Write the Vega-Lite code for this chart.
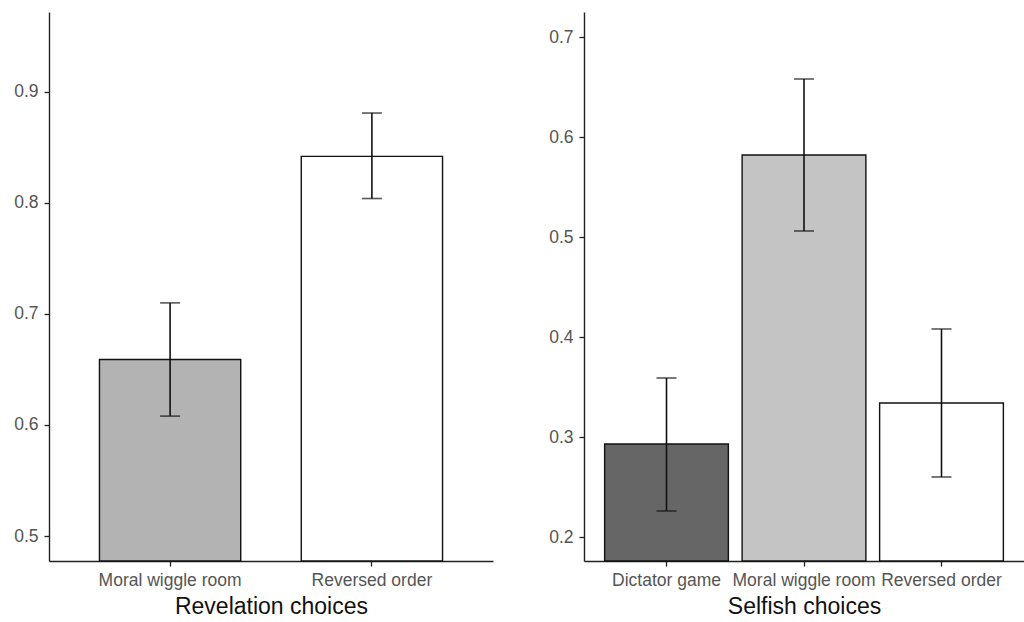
{
  "$schema": "https://vega.github.io/schema/vega-lite/v6.json",
  "background": "white",
  "padding": {"left": 13, "top": 12, "right": 0, "bottom": 0},
  "datasets": {
    "revelation": [
      {"condition": "Moral wiggle room", "mean": 0.659, "lo": 0.608, "hi": 0.710},
      {"condition": "Reversed order", "mean": 0.842, "lo": 0.804, "hi": 0.881}
    ],
    "selfish": [
      {"condition": "Dictator game", "mean": 0.293, "lo": 0.226, "hi": 0.359},
      {"condition": "Moral wiggle room", "mean": 0.582, "lo": 0.506, "hi": 0.658},
      {"condition": "Reversed order", "mean": 0.334, "lo": 0.260, "hi": 0.408}
    ]
  },
  "config": {
    "font": "Liberation Sans",
    "view": {"stroke": null},
    "axis": {
      "grid": false,
      "domainColor": "#222222",
      "domainWidth": 1.4,
      "tickColor": "#222222",
      "tickWidth": 1.3,
      "tickSize": 5,
      "labelColor": "#555555",
      "labelFont": "Liberation Sans",
      "labelFontSize": 17.5,
      "titleFont": "Liberation Sans",
      "titleFontSize": 23,
      "titleFontWeight": "normal",
      "titleColor": "#111111"
    }
  },
  "hconcat": [
    {
      "width": 444,
      "height": 549,
      "data": {"name": "revelation"},
      "encoding": {
        "x": {
          "field": "condition",
          "type": "nominal",
          "title": "Revelation choices",
          "scale": {"paddingInner": 0.3, "paddingOuter": 0.25},
          "axis": {"labelAngle": 0, "labelPadding": 5, "titlePadding": 7}
        }
      },
      "layer": [
        {
          "mark": {"type": "bar", "stroke": "#111111", "strokeWidth": 1.4},
          "encoding": {
            "y": {
              "field": "mean",
              "type": "quantitative",
              "title": null,
              "scale": {"domain": [0.4775, 0.972], "zero": false, "nice": false},
              "axis": {"values": [0.5, 0.6, 0.7, 0.8, 0.9], "format": ".1f", "labelPadding": 6}
            },
            "y2": {"datum": 0.4775},
            "fill": {
              "field": "condition",
              "type": "nominal",
              "legend": null,
              "scale": {"domain": ["Moral wiggle room", "Reversed order"], "range": ["#B3B3B3", "#FFFFFF"]}
            }
          }
        },
        {
          "mark": {"type": "rule", "color": "#111111", "strokeWidth": 1.6},
          "encoding": {"y": {"field": "lo", "type": "quantitative"}, "y2": {"field": "hi"}}
        },
        {
          "mark": {"type": "tick", "color": "#111111", "thickness": 1.6, "size": 20},
          "encoding": {"y": {"field": "lo", "type": "quantitative"}}
        },
        {
          "mark": {"type": "tick", "color": "#111111", "thickness": 1.6, "size": 20},
          "encoding": {"y": {"field": "hi", "type": "quantitative"}}
        }
      ]
    },
    {
      "width": 440,
      "height": 549,
      "data": {"name": "selfish"},
      "encoding": {
        "x": {
          "field": "condition",
          "type": "nominal",
          "title": "Selfish choices",
          "scale": {"paddingInner": 0.1, "paddingOuter": 0.15},
          "axis": {"labelAngle": 0, "labelPadding": 5, "titlePadding": 7, "labelOverlap": false}
        }
      },
      "layer": [
        {
          "mark": {"type": "bar", "stroke": "#111111", "strokeWidth": 1.4},
          "encoding": {
            "y": {
              "field": "mean",
              "type": "quantitative",
              "title": null,
              "scale": {"domain": [0.176, 0.725], "zero": false, "nice": false},
              "axis": {"values": [0.2, 0.3, 0.4, 0.5, 0.6, 0.7], "format": ".1f", "labelPadding": 6}
            },
            "y2": {"datum": 0.176},
            "fill": {
              "field": "condition",
              "type": "nominal",
              "legend": null,
              "scale": {"domain": ["Dictator game", "Moral wiggle room", "Reversed order"], "range": ["#666666", "#C4C4C4", "#FFFFFF"]}
            }
          }
        },
        {
          "mark": {"type": "rule", "color": "#111111", "strokeWidth": 1.6},
          "encoding": {"y": {"field": "lo", "type": "quantitative"}, "y2": {"field": "hi"}}
        },
        {
          "mark": {"type": "tick", "color": "#111111", "thickness": 1.6, "size": 20},
          "encoding": {"y": {"field": "lo", "type": "quantitative"}}
        },
        {
          "mark": {"type": "tick", "color": "#111111", "thickness": 1.6, "size": 20},
          "encoding": {"y": {"field": "hi", "type": "quantitative"}}
        }
      ]
    }
  ],
  "spacing": 55,
  "resolve": {"scale": {"fill": "independent", "y": "independent", "x": "independent"}}
}
